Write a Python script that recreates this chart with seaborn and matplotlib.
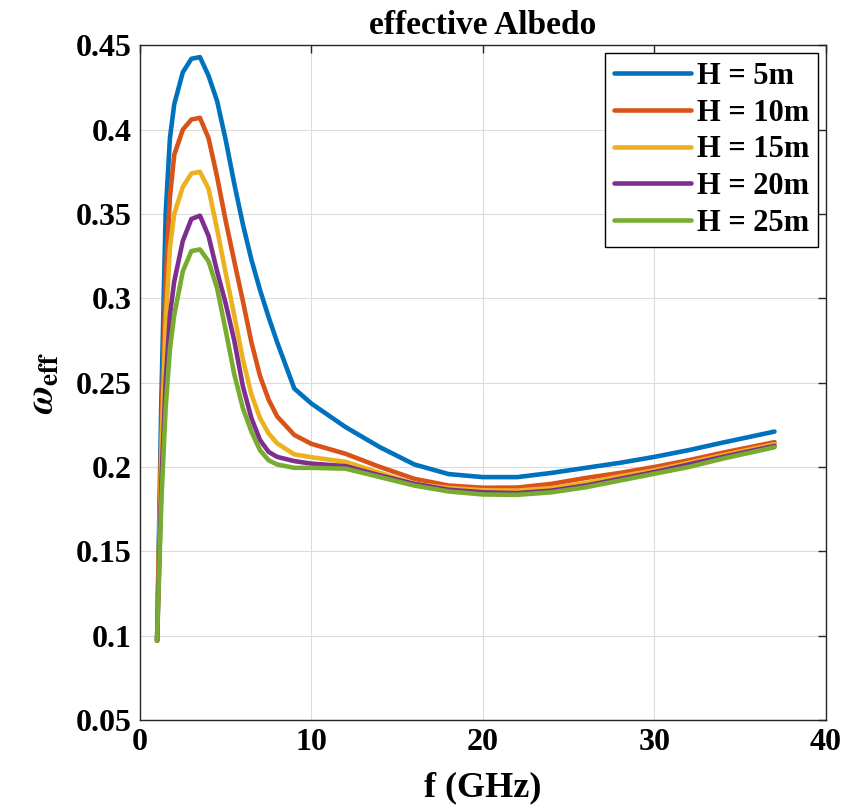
import numpy as np
import pandas as pd
import seaborn as sns
import matplotlib.pyplot as plt

# frequency samples (GHz)
freq = [1, 1.25, 1.5, 1.75, 2, 2.5, 3, 3.5, 4, 4.5, 5, 5.5, 6, 6.5, 7, 7.5, 8,
        9, 10, 12, 14, 16, 18, 20, 22, 24, 26, 28, 30, 32, 34, 37]

# effective albedo for each height
w_5m = [0.097, 0.24, 0.35, 0.395, 0.415, 0.434, 0.442, 0.443, 0.432, 0.417, 0.394, 0.368,
        0.344, 0.323, 0.305, 0.289, 0.274, 0.2465, 0.2376, 0.2236, 0.2117, 0.2015, 0.1958,
        0.194, 0.194, 0.1965, 0.1995, 0.2025, 0.206, 0.21, 0.2145, 0.221]
w_10m = [0.097, 0.22, 0.31, 0.36, 0.385, 0.4, 0.406, 0.407, 0.395, 0.372, 0.346, 0.322,
         0.2985, 0.274, 0.254, 0.24, 0.23, 0.219, 0.2137, 0.2078, 0.2, 0.193, 0.189,
         0.1877, 0.1878, 0.19, 0.1935, 0.1965, 0.2, 0.204, 0.2085, 0.2147]
w_15m = [0.097, 0.21, 0.285, 0.33, 0.35, 0.366, 0.374, 0.375, 0.365, 0.341, 0.315, 0.29,
         0.264, 0.243, 0.229, 0.22, 0.214, 0.2075, 0.2058, 0.203, 0.1965, 0.19, 0.1875,
         0.1862, 0.186, 0.1875, 0.1905, 0.1945, 0.198, 0.2025, 0.207, 0.2135]
w_20m = [0.097, 0.19, 0.25, 0.29, 0.31, 0.334, 0.347, 0.349, 0.337, 0.316, 0.297, 0.275,
         0.248, 0.229, 0.216, 0.209, 0.206, 0.2035, 0.202, 0.2005, 0.195, 0.19, 0.1865,
         0.185, 0.1845, 0.186, 0.189, 0.193, 0.197, 0.2015, 0.206, 0.2125]
w_25m = [0.097, 0.18, 0.235, 0.27, 0.29, 0.316, 0.328, 0.329, 0.322, 0.306, 0.281, 0.255,
         0.235, 0.221, 0.21, 0.204, 0.2015, 0.1995, 0.1995, 0.199, 0.194, 0.189, 0.1855,
         0.1837, 0.1835, 0.185, 0.188, 0.192, 0.196, 0.2, 0.205, 0.2117]

labels = ['H = 5m', 'H = 10m', 'H = 15m', 'H = 20m', 'H = 25m']
colors = ['#0072BD', '#D95319', '#EDB120', '#7E2F8E', '#77AC30']

series = [w_5m, w_10m, w_15m, w_20m, w_25m]
df = pd.concat([pd.DataFrame({'f': freq, 'w': s, 'H': lab}) for s, lab in zip(series, labels)])

sns.set_theme(style='whitegrid')
plt.rcParams['font.family'] = ['Liberation Serif', 'DejaVu Serif']
plt.rcParams['font.weight'] = 'bold'
plt.rcParams['mathtext.fontset'] = 'stix'
plt.rcParams['text.color'] = 'black'
plt.rcParams['axes.labelcolor'] = 'black'

fig = plt.figure(figsize=(8.48, 8.09), dpi=100)
ax = fig.add_axes([0.165, 0.11, 0.809, 0.834])

sns.lineplot(data=df, x='f', y='w', hue='H', palette=colors, linewidth=3.3,
             sort=False, ax=ax, solid_joinstyle='round', solid_capstyle='round')

ax.set_xlim(0, 40)
ax.set_ylim(0.05, 0.45)
ax.set_xticks([0, 10, 20, 30, 40])
ax.set_yticks(np.arange(0.05, 0.451, 0.05))
ax.set_yticklabels(['0.05', '0.1', '0.15', '0.2', '0.25', '0.3', '0.35', '0.4', '0.45'])
ax.tick_params(direction='in', length=6, width=1, colors='#262626', labelsize=23,
               top=True, right=True, pad=6)
for t in ax.get_xticklabels() + ax.get_yticklabels():
    t.set_fontweight('bold')
    t.set_color('black')

ax.grid(True, color='#dcdcdc', linewidth=0.8)
for sp in ax.spines.values():
    sp.set_color('#262626')
    sp.set_linewidth(1.0)

ax.set_title('effective Albedo', fontsize=24, fontweight='bold', color='black', pad=8)
ax.set_xlabel('f (GHz)', fontsize=26, fontweight='bold', labelpad=10)
ax.set_ylabel(r'$\omega_{\mathbf{eff}}$', fontsize=28, labelpad=10)

leg = ax.legend(loc='upper right', fontsize=22, frameon=True, fancybox=False,
                framealpha=1, edgecolor='black', handlelength=2.5, handletextpad=0.2,
                labelspacing=0.25, borderaxespad=0.25, borderpad=0.3)
leg.get_frame().set_linewidth(1.0)
for t in leg.get_texts():
    t.set_fontweight('bold')
    t.set_color('black')
for ln in leg.get_lines():
    ln.set_linewidth(3.3)

fig.savefig('out.png', dpi=100)
